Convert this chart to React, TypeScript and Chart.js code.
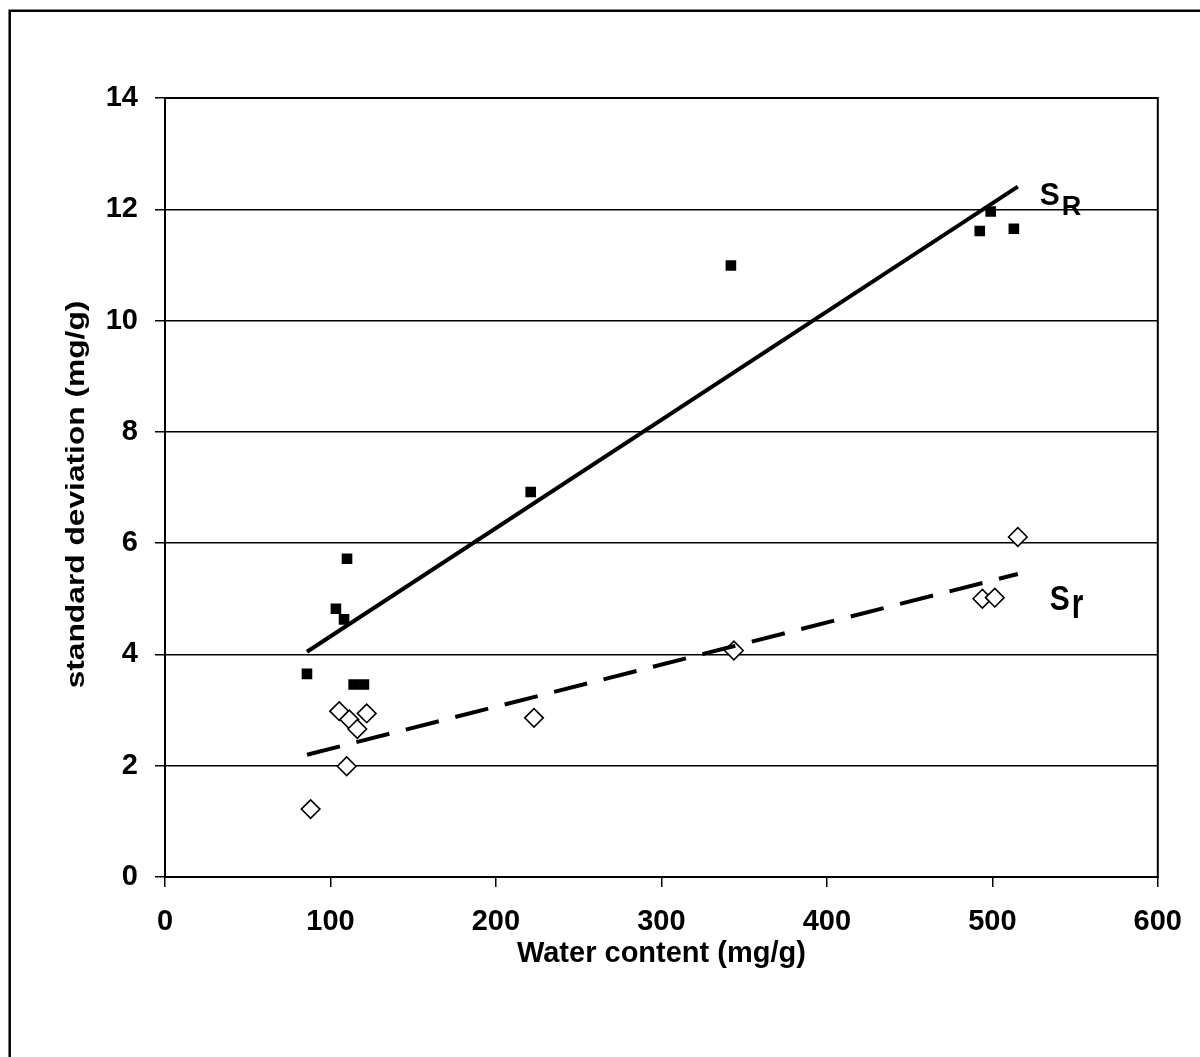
import React, { useEffect, useRef } from "react";
import { Chart, registerables } from "chart.js";

Chart.register(...registerables);

// ---- data ----
const xTickValues = [0, 100, 200, 300, 400, 500, 600];
const yTickValues = [0, 2, 4, 6, 8, 10, 12, 14];

const sRWater = [85.8, 103.3, 108.2, 110, 114, 120.2, 221, 342, 492.4, 499, 513];
const sRValues = [3.65, 4.82, 4.63, 5.72, 3.46, 3.46, 6.92, 10.99, 11.61, 11.96, 11.65];

const srWater = [88.0, 105.3, 111.4, 109.8, 116.2, 121.9, 223, 343.8, 494, 501.5, 515.4];
const srValues = [1.22, 2.98, 2.83, 1.99, 2.66, 2.94, 2.86, 4.07, 5.0, 5.02, 6.11];

const xTitle = "Water content (mg/g)";
const yTitle = "standard deviation (mg/g)";
const sRLabel = ["S", "R"];
const srLabel = ["S", "r"];

// least-squares trendline (as in the spreadsheet trendline)
function fit(xs: number[], ys: number[]) {
  const n = xs.length;
  const mx = xs.reduce((a, b) => a + b, 0) / n;
  const my = ys.reduce((a, b) => a + b, 0) / n;
  let sxy = 0, sxx = 0;
  for (let i = 0; i < n; i++) {
    sxy += (xs[i] - mx) * (ys[i] - my);
    sxx += (xs[i] - mx) * (xs[i] - mx);
  }
  const slope = sxy / sxx;
  return { slope, intercept: my - slope * mx };
}

function trend(xs: number[], ys: number[]) {
  const { slope, intercept } = fit(xs, ys);
  const lo = Math.min(...sRWater, ...srWater);
  const hi = Math.max(...sRWater, ...srWater);
  return [lo, hi].map((x) => ({ x, y: intercept + slope * x }));
}

const SANS = '"Liberation Sans", Arial, sans-serif';

const decor = {
  id: "decor",
  beforeDraw(chart: any) {
    const ctx = chart.ctx;
    ctx.save();
    ctx.fillStyle = "#fff";
    ctx.fillRect(0, 0, chart.width, chart.height);
    ctx.restore();
  },
  beforeDatasetsDraw(chart: any) {
    const { ctx, chartArea: a } = chart;
    ctx.save();
    ctx.strokeStyle = "#000";
    ctx.lineWidth = 2;
    ctx.strokeRect(a.left, a.top, a.right - a.left, a.bottom - a.top);
    ctx.restore();
  },
  afterDraw(chart: any) {
    const ctx = chart.ctx;
    const xs = chart.scales.x;
    const ys = chart.scales.y;
    ctx.save();
    // outer frame
    ctx.strokeStyle = "#000";
    ctx.lineWidth = 2.5;
    ctx.beginPath();
    ctx.moveTo(9.7, chart.height + 2);
    ctx.lineTo(9.7, 10.7);
    ctx.lineTo(chart.width + 2, 10.7);
    ctx.stroke();

    ctx.fillStyle = "#000";
    // y axis title (stretched along its length like the reference)
    ctx.save();
    ctx.translate(77, (chart.chartArea.top + chart.chartArea.bottom) / 2 + 7);
    ctx.rotate(-Math.PI / 2);
    ctx.scale(1.22, 1);
    ctx.font = `bold 26px ${SANS}`;
    ctx.textAlign = "center";
    ctx.textBaseline = "middle";
    ctx.fillText(yTitle, 0, 0);
    ctx.restore();

    // series labels
    ctx.textAlign = "left";
    ctx.textBaseline = "alphabetic";
    let px = xs.getPixelForValue(528.6);
    let py = ys.getPixelForValue(12.08);
    ctx.save();
    ctx.translate(px, py);
    ctx.scale(1, 1.05);
    ctx.font = `bold 30px ${SANS}`;
    ctx.fillText(sRLabel[0], 0, 0);
    let w = ctx.measureText(sRLabel[0]).width;
    ctx.restore();
    ctx.font = `bold 27px ${SANS}`;
    ctx.fillText(sRLabel[1], px + w + 2, py + 10);

    px = xs.getPixelForValue(534.7);
    py = ys.getPixelForValue(4.8);
    ctx.save();
    ctx.translate(px, py);
    ctx.scale(1, 1.17);
    ctx.font = `bold 30px ${SANS}`;
    ctx.fillText(srLabel[0], 0, 0);
    w = ctx.measureText(srLabel[0]).width;
    ctx.restore();
    ctx.save();
    ctx.translate(px + w + 2, py + 8);
    ctx.scale(0.9, 1.3);
    ctx.font = `bold 33px ${SANS}`;
    ctx.fillText(srLabel[1], 0, 0);
    ctx.restore();

    ctx.restore();
  },
};

export default function App() {
  const ref = useRef<HTMLCanvasElement | null>(null);

  useEffect(() => {
    document.body.style.margin = "0";
    const canvas = ref.current!;
    const chart = new Chart(canvas, {
      type: "scatter",
      data: {
        datasets: [
          {
            type: "line" as any,
            label: "sR trend",
            data: trend(sRWater, sRValues),
            borderColor: "#000",
            borderWidth: 4,
            pointRadius: 0,
            fill: false,
            showLine: true,
            order: 1,
          } as any,
          {
            type: "line" as any,
            label: "sr trend",
            data: trend(srWater, srValues),
            borderColor: "#000",
            borderWidth: 4,
            borderDash: [34, 17],
            pointRadius: 0,
            fill: false,
            showLine: true,
            order: 1,
          } as any,
          {
            label: "sR",
            data: sRWater.map((x, i) => ({ x, y: sRValues[i] })),
            pointStyle: "rect",
            pointRadius: 7.5,
            backgroundColor: "#000",
            borderColor: "#000",
            borderWidth: 0,
            order: 2,
          },
          {
            label: "sr",
            data: srWater.map((x, i) => ({ x, y: srValues[i] })),
            pointStyle: "rectRot",
            pointRadius: 9.3,
            backgroundColor: "#fff",
            borderColor: "#000",
            borderWidth: 1.6,
            order: 2,
          },
        ],
      },
      options: {
        responsive: false,
        animation: false,
        events: [],
        layout: { padding: { left: 0, right: 42, top: 98, bottom: 0 } },
        plugins: {
          legend: { display: false },
          tooltip: { enabled: false },
        },
        scales: {
          x: {
            type: "linear",
            min: 0,
            max: 600,
            afterFit: (s: any) => {
              s.height = 180;
            },
            afterBuildTicks: (s: any) => {
              s.ticks = xTickValues.map((v) => ({ value: v }));
            },
            grid: {
              drawOnChartArea: false,
              drawTicks: true,
              tickLength: 10,
              color: "#000",
              lineWidth: 1.5,
            },
            border: { display: true, color: "#000", width: 2 },
            ticks: {
              color: "#000",
              padding: 18,
              maxRotation: 0,
              font: { family: SANS, size: 29, weight: "bold" },
            },
            title: {
              display: true,
              text: xTitle,
              color: "#000",
              font: { family: SANS, size: 29, weight: "bold" },
              padding: { top: 0, bottom: 86 },
            },
          },
          y: {
            type: "linear",
            min: 0,
            max: 14,
            afterFit: (s: any) => {
              s.width = 165;
            },
            afterBuildTicks: (s: any) => {
              s.ticks = yTickValues.map((v) => ({ value: v }));
            },
            grid: {
              drawOnChartArea: true,
              drawTicks: true,
              tickLength: 10,
              color: "#000",
              lineWidth: 1.5,
            },
            border: { display: true, color: "#000", width: 2 },
            ticks: {
              color: "#000",
              padding: 17,
              font: { family: SANS, size: 29, weight: "bold" },
            },
          },
        },
      },
      plugins: [decor],
    });
    return () => chart.destroy();
  }, []);

  return (
    <div style={{ width: 1200, height: 1057 }}>
      <canvas ref={ref} width={1200} height={1057} style={{ display: "block" }} />
    </div>
  );
}
